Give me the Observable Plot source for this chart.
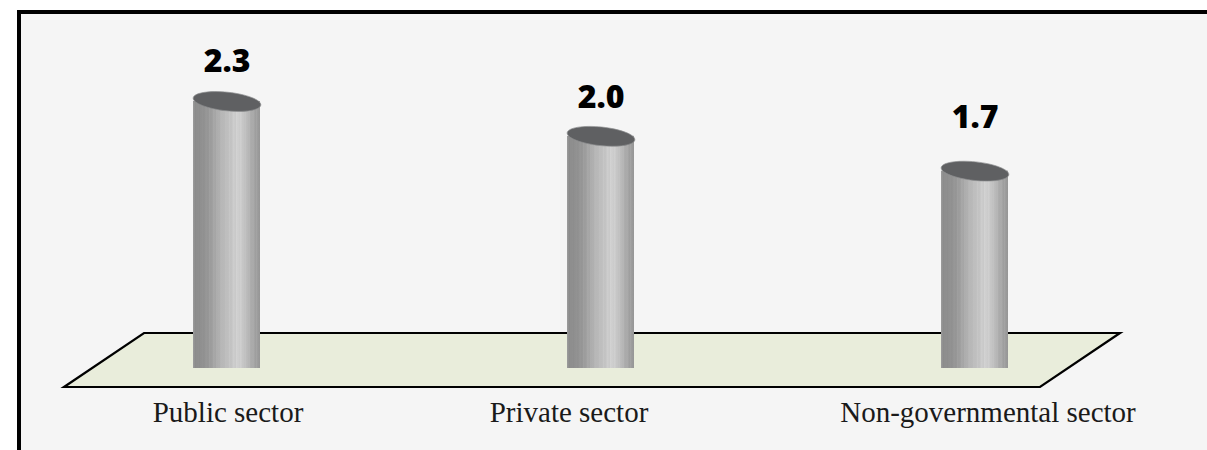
<!DOCTYPE html>
<html>
<head>
<meta charset="utf-8">
<script src="https://cdn.jsdelivr.net/npm/d3@7"></script>
<script src="https://cdn.jsdelivr.net/npm/@observablehq/plot@0.6"></script>
<style>
  html, body { margin: 0; padding: 0; background: #ffffff; overflow: hidden; }
  #chart { width: 1207px; height: 450px; overflow: hidden; }
  #chart svg { display: block; max-width: none; overflow: hidden; }
</style>
</head>
<body>
<div id="chart"></div>
<script>
// ---- data ----
const categories = ["Public sector", "Private sector", "Non-governmental sector"];
const values = [2.3, 2.0, 1.7];
const valueLabels = ["2.3", "2.0", "1.7"];

// ---- layout / style (not data) ----
const valueLabelDy = [-30, -28, -43];
const categoryDx = [1, -32, 13];

const data = categories.map((c, i) => ({category: c, value: values[i], label: valueLabels[i]}));

// rotated ellipse symbol for the cylinder tops
const ellipseTop = {
  draw(ctx) {
    const rx = 34, ry = 9.3, a = 6 * Math.PI / 180, k = 0.5523;
    const c = Math.cos(a), s = Math.sin(a);
    const P = (x, y) => [x * c - y * s, x * s + y * c];
    const m = P(rx, 0);
    ctx.moveTo(m[0], m[1]);
    const segs = [
      [[rx, k * ry], [k * rx, ry], [0, ry]],
      [[-k * rx, ry], [-rx, k * ry], [-rx, 0]],
      [[-rx, -k * ry], [-k * rx, -ry], [0, -ry]],
      [[k * rx, -ry], [rx, -k * ry], [rx, 0]]
    ];
    for (const [p1, p2, p3] of segs) {
      const a1 = P(...p1), a2 = P(...p2), a3 = P(...p3);
      ctx.bezierCurveTo(a1[0], a1[1], a2[0], a2[1], a3[0], a3[1]);
    }
    ctx.closePath();
  }
};

// outer border, open to the right and bottom (cropped in the original)
function border(index, scales, values, dimensions) {
  const {marginLeft, marginTop, width, height} = dimensions;
  const g = d3.create("svg:g");
  g.append("rect")
    .attr("x", marginLeft).attr("y", marginTop)
    .attr("width", width - marginLeft).attr("height", height - marginTop)
    .attr("fill", "#f5f5f5");
  g.append("path")
    .attr("d", `M${marginLeft},${height}V${marginTop}H${width}`)
    .attr("fill", "none").attr("stroke", "#000").attr("stroke-width", 4);
  return g.node();
}

// the 3D floor plane drawn from the scales
function floor(index, scales, values, dimensions) {
  const x0 = scales.x(categories[0]);
  const x1 = scales.x(categories[categories.length - 1]) + 67;
  const y0 = scales.y(0);
  const backY = y0 - 35, frontY = y0 + 19, shift = 80;
  const pts = [
    [x0 - 49, backY], [x1 + 112, backY],
    [x1 + 112 - shift, frontY], [x0 - 49 - shift, frontY]
  ];
  return d3.create("svg:polygon")
    .attr("points", pts.map(p => p.join(",")).join(" "))
    .attr("fill", "#e9eddb")
    .attr("stroke", "#000")
    .attr("stroke-width", 2.2)
    .node();
}

const width = 1207, height = 450;

const marks = [
  border,
  floor,
  Plot.barY(data, {x: "category", y: "value", fill: "url(#cylGrad)"}),
  Plot.dot(data, {x: "category", y: "value", symbol: ellipseTop, r: 10, fill: "#5f6062", stroke: "#8e8f91", strokeWidth: 0.7}),
  ...data.map((d, i) => Plot.text([d], {
    x: "category", y: "value", text: "label", dy: valueLabelDy[i], lineAnchor: "bottom",
    fontSize: 32, fontWeight: 800, fontFamily: "Open Sans", fill: "#000"
  })),
  ...categories.map((c, i) => Plot.text([c], {
    x: d => d, text: d => d, frameAnchor: "bottom", dy: -29, dx: categoryDx[i], lineAnchor: "bottom",
    fontSize: 29, fontFamily: "Liberation Serif", fill: "#1a1a1a"
  }))
];

const svg = Plot.plot({
  width, height,
  marginLeft: 19, marginTop: 12, marginRight: 0, marginBottom: 0,
  style: {background: "#ffffff", overflow: "hidden"},
  x: {type: "band", domain: categories, range: [192, 1008], paddingInner: 0.821, paddingOuter: 0, axis: null},
  y: {domain: [0, 2.3], range: [368, 101], axis: null},
  marks
});

// horizontal finely striped gradient for the cylinder bodies
const defs = d3.select(svg).insert("defs", ":first-child");
const grad = defs.append("linearGradient").attr("id", "cylGrad")
  .attr("x1", "0").attr("x2", "1").attr("y1", "0").attr("y2", "0");
const base = [
  [0.00, 150], [0.04, 140], [0.12, 142], [0.22, 152], [0.32, 166], [0.42, 180],
  [0.52, 192], [0.60, 202], [0.66, 208], [0.72, 202], [0.80, 188], [0.88, 172],
  [0.95, 160], [1.00, 152]
];
const stripe = [0, 5, -3, 3, -5, 2, 4, -3, 1, -4, 3, -2];
const steps = 120;
for (let i = 0; i <= steps; i++) {
  const t = i / steps;
  let j = 0;
  while (j < base.length - 2 && base[j + 1][0] < t) j++;
  const [t0, v0] = base[j], [t1, v1] = base[j + 1];
  const v = Math.round(v0 + (v1 - v0) * (t - t0) / (t1 - t0) + stripe[i % stripe.length]);
  grad.append("stop").attr("offset", t).attr("stop-color", `rgb(${v},${v},${v})`);
}

document.getElementById("chart").appendChild(svg);
</script>
</body>
</html>
